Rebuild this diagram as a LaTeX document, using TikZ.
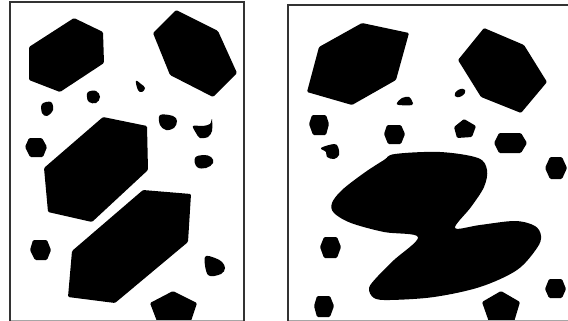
\documentclass[tikz,border=0pt]{standalone}
\begin{document}
\begin{tikzpicture}[x=1pt,y=-1pt,
  blob/.style={fill=black,rounded corners=1.2pt},
  frameline/.style={draw=black!80,line width=1.8pt},
  baseline/.style={draw=black!35,line width=1pt}]
\useasboundingbox (0,0) rectangle (568,321);
% ---------- left panel ----------
\begin{scope}
\clip (10,2) rectangle (244,320);
\fill[blob] (74,18) -- (103,32) -- (104,63) -- (60,92) -- (29,80) -- (29,47) -- cycle;
\fill[blob] (176,10) -- (218,31) -- (237,73) -- (213,97) -- (170,75) -- (153,33) -- cycle;
\fill[black] plot[smooth cycle,tension=0.7] coordinates {(136,81) (141,84) (145,88) (142,92) (138,90)};
\fill[black] plot[smooth cycle,tension=0.7] coordinates {(88,92) (96,91) (100,97) (96,103) (89,102) (87,97)};
\fill[black] plot[smooth cycle,tension=0.6] coordinates {(42,104) (51,102) (53,110) (47,116) (42,113)};
\fill[black] plot[smooth cycle,tension=0.6] coordinates {(160,115) (173,116) (177,121) (174,128) (166,130) (160,125)};
\fill[black] plot[smooth cycle,tension=0.5] coordinates {(193,126) (203,126) (210,124) (212,119) (212,131) (208,137) (200,138) (196,133)};
\fill[black] plot[smooth cycle,tension=0.7] coordinates {(195,158) (203,155) (211,157) (213,163) (206,168) (197,167)};
\fill[blob] (29,138) -- (42,138) -- (47,147) -- (43,157) -- (30,157) -- (25,147) -- cycle;
\fill[blob] (103,117) -- (147,126) -- (148,170) -- (92,222) -- (48,212) -- (44,168) -- cycle;
\fill[blob] (143,190) -- (191,194) -- (188,242) -- (115,303) -- (68,297) -- (72,251) -- cycle;
\fill[blob] (33,240) -- (47,240) -- (51,250) -- (47,260) -- (35,260) -- (30,250) -- cycle;
\fill[black] plot[smooth cycle,tension=0.6] coordinates {(205,257) (215,258) (222,262) (225,268) (221,274) (208,275)};
\fill[blob] (173,291) -- (197,303) -- (190,324) -- (158,324) -- (150,303) -- cycle;
\end{scope}
\draw[baseline] (10,320) -- (244,320);
\draw[frameline] (10,320.5) -- (10,2) -- (244,2) -- (244,320.5);
% ---------- right panel ----------
\begin{scope}
\clip (288,5) rectangle (568,320);
\fill[blob] (362,23) -- (409,33) -- (396,80) -- (352,105) -- (307,92) -- (319,47) -- cycle;
\fill[blob] (484,28) -- (524,45) -- (547,82) -- (521,113) -- (481,97) -- (458,60) -- cycle;
\fill[black] plot[smooth cycle,tension=0.6] coordinates {(397,103) (402,98) (409,97) (412,101) (412,105) (399,105)};
\fill[black,rotate around={30:(460,93)}] (460,93) ellipse [x radius=6,y radius=3.5];
\fill[blob] (312,115) -- (326,115) -- (329,124) -- (326,135) -- (313,135) -- (309,124) -- cycle;
\fill[blob] (387,125) -- (401,125) -- (405,134) -- (401,144) -- (388,144) -- (384,134) -- cycle;
\fill[blob] (464,119) -- (476,126) -- (472,137) -- (457,138) -- (454,127) -- cycle;
\fill[blob] (499,133) -- (521,133) -- (527,143) -- (521,153) -- (499,153) -- (494,143) -- cycle;
\fill[black] plot[smooth cycle,tension=0.6] coordinates {(321,148) (334,144) (338,147) (339,155) (334,159) (327,157) (326,152)};
\fill[blob] (550,157) -- (562,157) -- (567,168) -- (562,179) -- (550,179) -- (545,168) -- cycle;
\fill[blob] (324,237) -- (337,237) -- (341,247) -- (337,258) -- (324,258) -- (320,247) -- cycle;
\fill[blob] (317,296) -- (330,296) -- (334,306) -- (330,317) -- (317,317) -- (314,306) -- cycle;
\fill[blob] (501,291) -- (520,302) -- (514,322) -- (489,322) -- (482,302) -- cycle;
\fill[blob] (549,279) -- (562,279) -- (566,289) -- (562,298) -- (549,298) -- (545,289) -- cycle;
% merged blob
\fill[black] plot[smooth cycle,tension=0.55] coordinates {
  (395,154) (440,152) (478,158) (487,170) (484,187) (471,207) (455,228)
  (480,225) (515,221) (535,226) (541,236) (537,248) (517,270) (480,287) (434,297) (390,300) (374,298) (369,288) (378,276) (394,260) (418,237)
  (384,232) (351,223) (334,213) (332,203) (342,190) (364,173) (384,160)};
\end{scope}
\draw[baseline] (288,320) -- (568,320);
\draw[frameline] (288,320.5) -- (288,5) -- (568,5);
\end{tikzpicture}
\end{document}
